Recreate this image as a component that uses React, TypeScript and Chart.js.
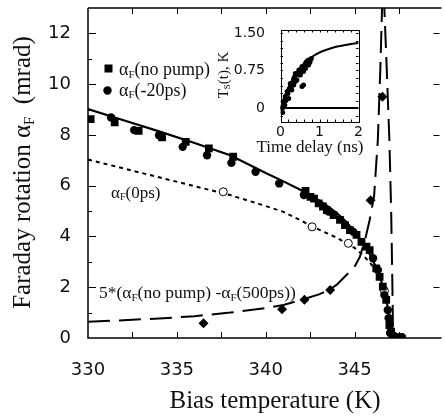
import React, { useEffect, useRef } from 'react';
import { Chart, registerables } from 'chart.js';

Chart.register(...registerables);

// ---------- main chart data ----------
const X_TICKS = [330, 335, 340, 345];
const Y_TICKS = [0, 2, 4, 6, 8, 10, 12];

// alpha_F (no pump) - squares
const noPumpT = [330.15, 331.5, 332.85, 334.17, 335.5, 336.8, 338.17, 342.24, 342.52, 342.72, 342.98, 343.22, 343.44, 343.82, 344.18, 344.46, 344.74, 345.11, 345.39, 345.67, 345.85, 346.22, 346.41, 346.59, 346.78, 346.96, 347.06, 347.15, 347.43];
const noPumpA = [8.62, 8.49, 8.16, 7.9, 7.73, 7.47, 7.14, 5.8, 5.56, 5.49, 5.3, 5.18, 5.04, 4.84, 4.65, 4.45, 4.25, 4.06, 3.79, 3.6, 3.46, 2.74, 2.41, 2.02, 1.5, 0.51, 0.25, 0.05, 0.03];

// alpha_F (-20ps) - filled circles
const m20T = [331.3, 332.6, 334.0, 335.33, 336.7, 338.07, 339.43, 340.76, 342.15, 343.54, 344.93, 346.04, 346.31, 346.68, 346.87, 346.92, 347.0, 347.22, 347.67];
const m20A = [8.69, 8.19, 7.99, 7.53, 7.2, 6.9, 6.55, 6.09, 5.63, 4.98, 4.18, 3.14, 2.68, 1.69, 1.1, 0.78, 0.2, 0.08, 0.03];

// alpha_F (0ps) - open circles
const zeroT = [337.61, 342.61, 344.65, 346.68];
const zeroA = [5.76, 4.38, 3.73, 1.86];

// 5*(alpha_F(no pump) - alpha_F(500ps)) - diamonds
const diffT = [336.5, 340.92, 342.18, 343.63, 345.9, 346.57];
const diffA = [0.58, 1.13, 1.51, 1.89, 5.43, 9.5];

// solid curve (no pump)
const fitNoPumpT = [330, 332, 334, 336, 338, 340, 341, 342, 343, 343.5, 344, 344.5, 345, 345.5, 346, 346.5, 346.8, 347, 347.15];
const fitNoPumpA = [9.02, 8.58, 8.14, 7.68, 7.2, 6.5, 6.17, 5.82, 5.42, 5.18, 4.92, 4.6, 4.2, 3.72, 3.12, 2.25, 1.45, 0.75, 0];

// dotted curve (0ps)
const fit0T = [330, 332, 334, 336, 338, 340, 341, 342, 343, 344, 345, 345.5, 346, 346.4, 346.7, 346.9, 347.05, 347.12];
const fit0A = [7.03, 6.68, 6.33, 5.98, 5.63, 5.2, 4.97, 4.62, 4.27, 3.95, 3.55, 3.25, 2.85, 2.4, 1.85, 1.2, 0.5, 0];

// dashed curve (difference)
const fitDiffT = [330, 332, 334, 336, 338, 340, 341, 342, 343, 343.63, 344, 344.5, 345, 345.3, 345.6, 345.85, 346.1, 346.31, 346.45, 346.56, 346.61, 346.66, 346.8, 346.96, 347.06, 347.12, 347.17];
const fitDiffA = [0.64, 0.7, 0.77, 0.86, 1.0, 1.18, 1.3, 1.5, 1.72, 1.92, 2.1, 2.45, 2.8, 3.2, 3.9, 4.65, 5.6, 7.8, 10.6, 13.3, 14.2, 13.3, 10.8, 7.8, 5.0, 2.5, 0];

// ---------- inset data ----------
const INSET_X_TICKS = [0, 1, 2];
const INSET_Y_TICKS = [0, 0.75, 1.5];
const INSET_Y_LABELS = ['0', '0.75', '1.50'];
const insetCurveT = [0, 0.1, 0.2, 0.3, 0.4, 0.5, 0.6, 0.7, 0.8, 1.0, 1.2, 1.4, 1.6, 1.8, 2.0];
const insetCurveV = [0, 0.22, 0.41, 0.56, 0.69, 0.8, 0.89, 0.96, 1.02, 1.11, 1.17, 1.22, 1.25, 1.28, 1.3];
const insetPtsT = [0.04, 0.056, 0.08, 0.09, 0.11, 0.12, 0.14, 0.17, 0.19, 0.21, 0.23, 0.25, 0.28, 0.29, 0.31, 0.34, 0.34, 0.36, 0.38, 0.38, 0.42, 0.44, 0.47, 0.47, 0.5, 0.51, 0.55, 0.55, 0.57, 0.59, 0.59, 0.62, 0.64, 0.64, 0.66, 0.68, 0.7, 0.72, 0.72, 0.74, 0.76, 0.79];
const insetPtsV = [-0.01, -0.09, 0.13, 0.02, 0.06, 0.23, 0.15, 0.33, 0.29, 0.19, 0.38, 0.49, 0.43, 0.36, 0.5, 0.59, 0.46, 0.62, 0.69, 0.53, 0.56, 0.7, 0.76, 0.66, 0.72, 0.66, 0.83, 0.43, 0.78, 0.73, 0.46, 0.84, 0.89, 0.79, 0.92, 0.86, 0.95, 0.96, 0.86, 0.9, 0.93, 0.99];

const SERIF = '"Liberation Serif", "Times New Roman", serif';
const SANS = '"DejaVu Sans", sans-serif';
const TXT = '#111';

type Part = { t: string; sub?: boolean };

function partFont(p: Part, size: number) {
  return `${p.sub ? Math.round(size * 0.6) : size}px ${SERIF}`;
}
function richWidth(ctx: CanvasRenderingContext2D, parts: Part[], size: number) {
  let w = 0;
  for (const p of parts) {
    ctx.font = partFont(p, size);
    w += ctx.measureText(p.t).width;
  }
  return w;
}
function drawRich(ctx: CanvasRenderingContext2D, parts: Part[], x: number, y: number, size: number, align: 'left' | 'center' = 'left') {
  const w = richWidth(ctx, parts, size);
  let cx = align === 'center' ? x - w / 2 : x;
  ctx.textAlign = 'left';
  ctx.textBaseline = 'alphabetic';
  for (const p of parts) {
    ctx.font = partFont(p, size);
    ctx.fillText(p.t, cx, p.sub ? y + size * 0.16 : y);
    cx += ctx.measureText(p.t).width;
  }
}

const pts = (xs: number[], ys: number[]) => xs.map((x, i) => ({ x, y: ys[i] }));

const zeroPad = (s: any) => {
  s.paddingTop = 0;
  s.paddingBottom = 0;
  s.paddingLeft = 0;
  s.paddingRight = 0;
};

const mainDecor = {
  id: 'mainDecor',
  afterDraw(chart: any) {
    const { ctx, chartArea: a, scales } = chart;
    const xs = scales.x;
    const ys = scales.y;
    ctx.save();
    ctx.strokeStyle = '#000';
    ctx.lineWidth = 1.5;
    ctx.beginPath();
    ctx.moveTo(a.left, a.top);
    ctx.lineTo(a.left, a.bottom);
    ctx.lineTo(a.right + 2, a.bottom);
    ctx.moveTo(a.left, a.top);
    ctx.lineTo(a.right + 2, a.top);
    ctx.stroke();

    ctx.lineWidth = 1;
    ctx.beginPath();
    for (let v = 332.5; v < 349.7; v += 2.5) {
      const px = Math.round(xs.getPixelForValue(v)) + 0.5;
      ctx.moveTo(px, a.bottom);
      ctx.lineTo(px, a.bottom - 6);
      ctx.moveTo(px, a.top);
      ctx.lineTo(px, a.top + 6);
    }
    for (let v = 1; v <= 12; v++) {
      const py = Math.round(ys.getPixelForValue(v)) + 0.5;
      const len = v % 2 === 0 ? 8 : 4;
      ctx.moveTo(a.left, py);
      ctx.lineTo(a.left + len, py);
      if (v % 2 === 0) {
        ctx.moveTo(a.right, py);
        ctx.lineTo(a.right - 6, py);
      }
    }
    ctx.stroke();

    // legend
    ctx.fillStyle = '#000';
    ctx.fillRect(104.5, 64.5, 8, 8);
    ctx.beginPath();
    ctx.arc(107.5, 90.5, 4.2, 0, Math.PI * 2);
    ctx.fill();

    ctx.fillStyle = TXT;
    const a_ = (s: string): Part[] => [{ t: 'α' }, { t: 'F', sub: true }, { t: s }];
    drawRich(ctx, a_('(no pump)'), 119, 75, 18);
    drawRich(ctx, a_('(-20ps)'), 119, 95.5, 18);
    drawRich(ctx, a_('(0ps)'), 111, 197.5, 17);
    drawRich(ctx, [{ t: '5*(' }, ...a_('(no pump) -'), ...a_('(500ps))')], 99, 298, 17.5);

    // x title
    drawRich(ctx, [{ t: 'Bias temperature (K)' }], 275, 408, 25, 'center');

    // y title
    ctx.save();
    ctx.translate(30, 172.5);
    ctx.rotate(-Math.PI / 2);
    drawRich(ctx, [{ t: 'Faraday rotation α' }, { t: 'F', sub: true }, { t: '  (mrad)' }], 0, 0, 25, 'center');
    ctx.restore();
    ctx.restore();
  },
};

const insetDecor = {
  id: 'insetDecor',
  beforeDraw(chart: any) {
    const { ctx, chartArea: a } = chart;
    ctx.save();
    ctx.fillStyle = '#fff';
    ctx.fillRect(a.left, a.top, a.right - a.left, a.bottom - a.top);
    ctx.restore();
  },
  afterDraw(chart: any) {
    const { ctx, chartArea: a, scales } = chart;
    const xs = scales.x;
    const ys = scales.y;
    ctx.save();
    ctx.strokeStyle = '#000';
    ctx.lineWidth = 1;
    ctx.strokeRect(Math.round(a.left) + 0.5, Math.round(a.top) + 0.5, Math.round(a.right - a.left), Math.round(a.bottom - a.top));
    ctx.beginPath();
    for (let v = 0.2; v < 2; v += 0.2) {
      const px = Math.round(xs.getPixelForValue(v)) + 0.5;
      ctx.moveTo(px, a.bottom);
      ctx.lineTo(px, a.bottom - 2.5);
      ctx.moveTo(px, a.top);
      ctx.lineTo(px, a.top + 2.5);
    }
    for (let v = -0.15; v < 1.55; v += 0.15) {
      const py = Math.round(ys.getPixelForValue(v)) + 0.5;
      ctx.moveTo(a.left, py);
      ctx.lineTo(a.left + 2.5, py);
      ctx.moveTo(a.right, py);
      ctx.lineTo(a.right - 2.5, py);
    }
    ctx.stroke();

    ctx.fillStyle = TXT;
    drawRich(ctx, [{ t: 'Time delay (ns)' }], 110, 132, 17, 'center');
    ctx.save();
    ctx.translate(28, 55);
    ctx.rotate(-Math.PI / 2);
    drawRich(ctx, [{ t: 'T' }, { t: 'S', sub: true }, { t: '(t), K' }], 0, 0, 15, 'center');
    ctx.restore();
    ctx.restore();
  },
};

export default function App() {
  const mainRef = useRef<HTMLCanvasElement>(null);
  const insetRef = useRef<HTMLCanvasElement>(null);

  useEffect(() => {
    const lineDs = (xs: number[], ys: number[], dash: number[], width: number) => ({
      data: pts(xs, ys),
      showLine: true,
      borderColor: '#000',
      borderWidth: width,
      borderDash: dash,
      pointRadius: 0,
      fill: false,
      tension: 0,
      order: 2,
    });
    const ptDs = (xs: number[], ys: number[], style: string, radius: number, bg: string, bw: number) => ({
      data: pts(xs, ys),
      showLine: false,
      pointStyle: style,
      pointRadius: radius,
      pointBackgroundColor: bg,
      pointBorderColor: '#000',
      pointBorderWidth: bw,
      order: 0,
    });

    const main = new Chart(mainRef.current!, {
      type: 'scatter',
      data: {
        datasets: [
          lineDs(fitNoPumpT, fitNoPumpA, [], 2.2),
          lineDs(fit0T, fit0A, [4, 4], 2),
          lineDs(fitDiffT, fitDiffA, [22, 9], 2),
          ptDs(noPumpT, noPumpA, 'rect', 5.5, '#000', 0),
          ptDs(m20T, m20A, 'circle', 4.2, '#000', 0),
          ptDs(zeroT, zeroA, 'circle', 4, '#fff', 1),
          ptDs(diffT, diffA, 'rectRot', 5, '#000', 0),
        ] as any,
      },
      options: {
        responsive: false,
        animation: false,
        devicePixelRatio: 1,
        layout: { padding: { top: 8, right: 1, left: 0, bottom: 0 } },
        plugins: { legend: { display: false }, tooltip: { enabled: false } },
        scales: {
          x: {
            type: 'linear',
            min: 330,
            max: 349.78,
            afterFit: (s: any) => { s.height = 80; zeroPad(s); },
            afterBuildTicks: (s: any) => { s.ticks = X_TICKS.map((v) => ({ value: v })); },
            grid: { display: false, drawTicks: false },
            border: { display: false },
            ticks: { color: TXT, font: { family: SANS, size: 18 }, padding: 22, maxRotation: 0, autoSkip: false, callback: (v: any) => String(v) },
          },
          y: {
            type: 'linear',
            min: 0,
            max: 13,
            afterFit: (s: any) => { s.width = 88; zeroPad(s); },
            afterBuildTicks: (s: any) => { s.ticks = Y_TICKS.map((v) => ({ value: v })); },
            grid: { display: false, drawTicks: false },
            border: { display: false },
            ticks: { color: TXT, font: { family: SANS, size: 18 }, padding: 17, autoSkip: false, callback: (v: any) => String(v) },
          },
        },
      } as any,
      plugins: [mainDecor],
    });

    const inset = new Chart(insetRef.current!, {
      type: 'scatter',
      data: {
        datasets: [
          { data: pts([0, 2], [0, 0]), showLine: true, borderColor: '#000', borderWidth: 2, pointRadius: 0, order: 2 },
          { data: pts(insetCurveT, insetCurveV), showLine: true, borderColor: '#000', borderWidth: 2, pointRadius: 0, tension: 0.3, order: 2 },
          { data: pts(insetPtsT, insetPtsV), showLine: false, pointRadius: 2.5, pointBackgroundColor: '#000', pointBorderWidth: 0, order: 0 },
        ] as any,
      },
      options: {
        responsive: false,
        animation: false,
        devicePixelRatio: 1,
        layout: { padding: { top: 10, right: 21.5, left: 0, bottom: 0 } },
        plugins: { legend: { display: false }, tooltip: { enabled: false } },
        scales: {
          x: {
            type: 'linear',
            min: 0,
            max: 2,
            afterFit: (s: any) => { s.height = 48; zeroPad(s); },
            afterBuildTicks: (s: any) => { s.ticks = INSET_X_TICKS.map((v) => ({ value: v })); },
            grid: { display: false, drawTicks: false },
            border: { display: false },
            ticks: { color: TXT, font: { family: SANS, size: 14 }, padding: 2, maxRotation: 0, autoSkip: false, callback: (v: any) => String(v) },
          },
          y: {
            type: 'linear',
            min: -0.28,
            max: 1.56,
            afterFit: (s: any) => { s.width = 80.5; zeroPad(s); },
            afterBuildTicks: (s: any) => { s.ticks = INSET_Y_TICKS.map((v) => ({ value: v })); },
            grid: { display: false, drawTicks: false },
            border: { display: false },
            ticks: {
              color: TXT,
              font: { family: SANS, size: 14 },
              padding: 15.5,
              autoSkip: false,
              callback: (v: any) => { const i = INSET_Y_TICKS.indexOf(Number(v)); return i >= 0 ? INSET_Y_LABELS[i] : ''; },
            },
          },
        },
      } as any,
      plugins: [insetDecor],
    });

    return () => {
      main.destroy();
      inset.destroy();
    };
  }, []);

  return (
    <div style={{ position: 'fixed', left: 0, top: 0, width: 445, height: 418, background: '#fff' }}>
      <canvas ref={mainRef} width={445} height={418} style={{ position: 'absolute', left: 0, top: 0, width: 445, height: 418 }} />
      <canvas ref={insetRef} width={180} height={150} style={{ position: 'absolute', left: 200, top: 20, width: 180, height: 150 }} />
    </div>
  );
}
